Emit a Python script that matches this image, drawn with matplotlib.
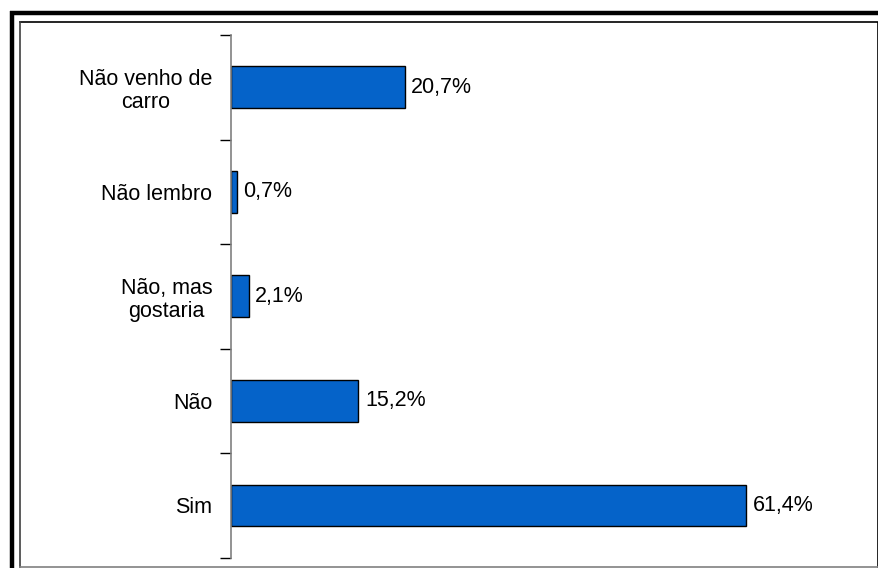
import numpy as np
import matplotlib.pyplot as plt
from matplotlib.lines import Line2D

# data (bottom to top)
categories = ["Sim", "Não", "Não, mas\ngostaria", "Não lembro", "Não venho de\ncarro"]
values = [61.4, 15.2, 2.1, 0.7, 20.7]
value_labels = ["61,4%", "15,2%", "2,1%", "0,7%", "20,7%"]

W, H = 879, 568
plt.rcParams["font.family"] = ["Liberation Sans", "DejaVu Sans"]

fig = plt.figure(figsize=(W / 100, H / 100), dpi=100)


def fx(px):
    return px / W


def fy(py):
    return 1 - py / H


# frame: thick outer lines on top/left, thin inner box
fig.add_artist(Line2D([fx(10), fx(879)], [fy(13), fy(13)], color="black", lw=3.2, solid_capstyle="butt"))
fig.add_artist(Line2D([fx(12), fx(12)], [fy(11), fy(568)], color="black", lw=3.2, solid_capstyle="butt"))
fig.add_artist(Line2D([fx(20.5), fx(878), fx(878)], [fy(21.5), fy(21.5), fy(567)], color="black", lw=1.2))
fig.add_artist(Line2D([fx(20.5), fx(20.5)], [fy(21.5), fy(567)], color="#404040", lw=1.2))
fig.add_artist(Line2D([fx(20.5), fx(878)], [fy(567), fy(567)], color="#808080", lw=1.2))

left, right = 231, 818
top, bottom = 35, 557.7
ax = fig.add_axes([fx(left), fy(bottom), fx(right - left), (bottom - top) / H])

y = np.arange(len(categories))
ax.barh(y, values, height=0.4, color="#0563C9", edgecolor="black", linewidth=1.0)

for yi, v, lab in zip(y, values, value_labels):
    ax.text(v + 0.8, yi, lab, va="center", ha="left", fontsize=15.5)

ax.set_xlim(0, 70)
ax.set_ylim(-0.5, len(categories) - 0.5)

ax.set_yticks(y)
ax.set_yticklabels(categories, fontsize=15.5, multialignment="center", linespacing=1.15)
ax.tick_params(axis="y", which="major", length=0, pad=13.5)
ax.set_yticks(np.arange(-0.5, len(categories), 1), minor=True)
ax.tick_params(axis="y", which="minor", length=8, width=1, color="black", direction="out")
ax.set_xticks([])

for side in ["top", "right", "bottom"]:
    ax.spines[side].set_visible(False)
ax.spines["left"].set_color("#808080")
ax.spines["left"].set_linewidth(1.2)
ax.patch.set_alpha(0)

fig.savefig("out.png", dpi=100)
